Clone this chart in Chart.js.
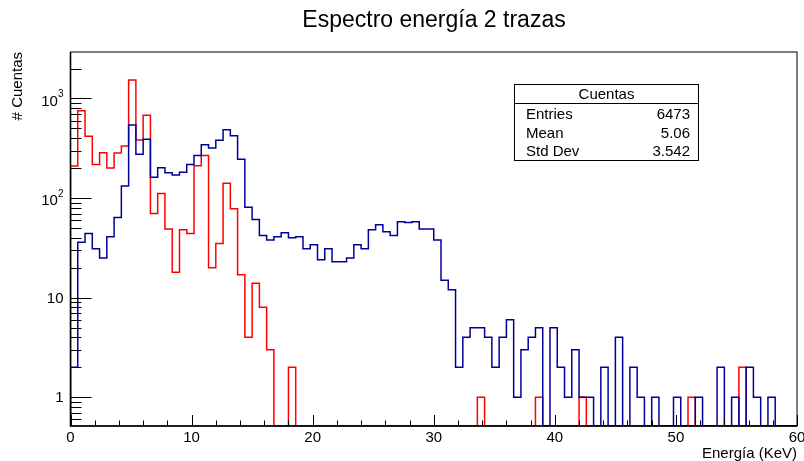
<!DOCTYPE html>
<html>
<head>
<meta charset="utf-8">
<title>Espectro energía 2 trazas</title>
<script src="https://cdn.jsdelivr.net/npm/chart.js@4.4.1/dist/chart.umd.min.js"></script>
<style>
  html, body { margin: 0; padding: 0; background: #fff; }
  #wrap { width: 804px; height: 461px; position: relative; }
</style>
</head>
<body>
<div id="wrap"><canvas id="spectrum" width="804" height="461"></canvas></div>
<script>
// Binning: 100 bins of 0.6 keV from 0 to 60 keV
const E_MIN = 0;
const E_MAX = 60;
const N_BINS = 100;

// Y range of the log axis
const Y_MIN = 0.515;
const Y_MAX = 2930;

// Counts per bin, blue trace
const countsBlue = [
  2, 36, 44, 31, 25, 41, 64, 132, 542, 275,
  390, 162, 202, 180, 171, 182, 218, 267, 344, 318,
  380, 486, 423, 245, 81, 61, 42, 38, 41, 45,
  40, 41, 31, 34, 24, 31, 23, 23, 25, 34,
  31, 48, 54, 46, 42, 58, 57, 58, 49, 49,
  38, 15, 12, 2, 4, 5, 5, 4, 2, 4,
  6, 1, 3, 4, 5, 0, 5, 2, 1, 3,
  1, 1, 0, 2, 0, 4, 0, 2, 1, 0,
  1, 0, 0, 1, 0, 0, 1, 0, 0, 2,
  0, 1, 0, 2, 1, 0, 1, 0, 0, 0
];

// Counts per bin, red trace
const countsRed = [
  210, 755, 417, 218, 286, 200, 284, 333, 1535, 383,
  678, 70, 111, 49, 18, 48, 44, 211, 267, 20,
  35, 141, 78, 17, 4, 14, 8, 3, 0, 0,
  2, 0, 0, 0, 0, 0, 0, 0, 0, 0,
  0, 0, 0, 0, 0, 0, 0, 0, 0, 0,
  0, 0, 0, 0, 0, 0, 1, 0, 0, 0,
  0, 0, 0, 0, 1, 0, 0, 0, 0, 0,
  1, 0, 0, 0, 0, 0, 0, 0, 0, 0,
  0, 0, 0, 0, 0, 1, 0, 0, 0, 0,
  0, 0, 2, 0, 0, 0, 0, 0, 0, 0
];

const xTickValues = [0, 10, 20, 30, 40, 50, 60];
const yTickValues = [1, 10, 100, 1000];
const yTickBase = ['1', '10', '10', '10'];
const yTickExp = ['', '', '2', '3'];

const titleText = 'Espectro energía 2 trazas';
const xTitle = 'Energía (KeV)';
const yTitle = '# Cuentas';

const statsTitle = 'Cuentas';
const statsNames = ['Entries', 'Mean', 'Std Dev'];
const statsValues = ['6473', '5.06', '3.542'];

const FONT = '"Liberation Sans", Arial, Helvetica, sans-serif';

/**
 * Turn bin contents into a closed step outline (ROOT "HIST" style).
 * Empty bins sit on the bottom of the frame.
 */
function histPoints(counts) {
  const w = (E_MAX - E_MIN) / N_BINS;
  const pts = [{ x: E_MIN, y: Y_MIN }];
  counts.forEach((c, i) => {
    pts.push({ x: E_MIN + i * w, y: Math.max(c, Y_MIN) });
  });
  pts.push({ x: E_MAX, y: Math.max(counts[counts.length - 1], Y_MIN) });
  pts.push({ x: E_MAX, y: Y_MIN });
  return pts;
}

// Frame, inward ticks, labels, titles and stats box
const rootFrame = {
  id: 'rootFrame',
  afterDatasetsDraw(chart) {
    const ctx = chart.ctx;
    const area = chart.chartArea;
    const xs = chart.scales.x;
    const ys = chart.scales.y;

    ctx.save();
    ctx.strokeStyle = '#000';
    ctx.fillStyle = '#000';

    // frame
    ctx.lineWidth = 1;
    ctx.strokeRect(area.left, area.top, area.right - area.left, area.bottom - area.top);

    // axis lines
    ctx.lineWidth = 1.6;
    ctx.beginPath();
    ctx.moveTo(area.left, area.top);
    ctx.lineTo(area.left, area.bottom);
    ctx.lineTo(area.right, area.bottom);
    ctx.stroke();

    // x ticks every 2 keV
    ctx.lineWidth = 1;
    ctx.beginPath();
    for (let v = E_MIN; v <= E_MAX; v += 2) {
      const px = Math.round(xs.getPixelForValue(v)) + 0.5;
      const len = v % 10 === 0 ? 11 : 5.5;
      ctx.moveTo(px, area.bottom);
      ctx.lineTo(px, area.bottom - len);
    }
    ctx.stroke();

    // y ticks, log decades with 2..9 minors
    ctx.beginPath();
    for (let d = -1; d <= 3; d++) {
      for (let m = 1; m <= 9; m++) {
        const v = m * Math.pow(10, d);
        if (v < Y_MIN || v > Y_MAX) continue;
        const py = Math.round(ys.getPixelForValue(v)) + 0.5;
        const len = m === 1 ? 21 : 11;
        ctx.moveTo(area.left, py);
        ctx.lineTo(area.left + len, py);
      }
    }
    ctx.stroke();

    // x labels
    ctx.font = '15px ' + FONT;
    ctx.textAlign = 'center';
    ctx.textBaseline = 'middle';
    xTickValues.forEach(v => {
      ctx.fillText(String(v), xs.getPixelForValue(v), area.bottom + 12);
    });

    // y labels, powers of ten with superscripts
    yTickValues.forEach((v, i) => {
      const py = ys.getPixelForValue(v);
      const right = area.left - 7;
      if (yTickExp[i]) {
        ctx.font = '10px ' + FONT;
        ctx.textAlign = 'right';
        const ew = ctx.measureText(yTickExp[i]).width;
        ctx.fillText(yTickExp[i], right, py - 4);
        ctx.font = '15px ' + FONT;
        ctx.fillText(yTickBase[i], right - ew, py + 3);
      } else {
        ctx.font = '15px ' + FONT;
        ctx.textAlign = 'right';
        ctx.fillText(yTickBase[i], right, py + 1);
      }
    });

    // axis titles
    ctx.font = '15px ' + FONT;
    ctx.textAlign = 'right';
    ctx.textBaseline = 'alphabetic';
    ctx.fillText(xTitle, area.right, 458);

    ctx.save();
    ctx.translate(22, area.top);
    ctx.rotate(-Math.PI / 2);
    ctx.textAlign = 'right';
    ctx.fillText(yTitle, 0, 0);
    ctx.restore();

    // main title
    ctx.font = '23px ' + FONT;
    ctx.textAlign = 'center';
    ctx.textBaseline = 'middle';
    ctx.fillText(titleText, 434, 21);

    // stats box
    const bx = 514.5, by = 84.5, bw = 184, bh = 76;
    ctx.fillStyle = '#fff';
    ctx.fillRect(bx, by, bw, bh);
    ctx.lineWidth = 1;
    ctx.strokeRect(bx, by, bw, bh);
    ctx.beginPath();
    ctx.moveTo(bx, 103.5);
    ctx.lineTo(bx + bw, 103.5);
    ctx.stroke();

    ctx.fillStyle = '#000';
    ctx.font = '15px ' + FONT;
    ctx.textAlign = 'center';
    ctx.fillText(statsTitle, bx + bw / 2, 94.5);
    const rowY = [115, 133.5, 151.5];
    statsNames.forEach((name, i) => {
      ctx.textAlign = 'left';
      ctx.fillText(name, 526, rowY[i]);
      ctx.textAlign = 'right';
      ctx.fillText(statsValues[i], 690, rowY[i]);
    });

    ctx.restore();
  }
};

const ctx = document.getElementById('spectrum').getContext('2d');
new Chart(ctx, {
  type: 'line',
  data: {
    datasets: [
      {
        label: 'traza azul',
        data: histPoints(countsBlue),
        borderColor: '#000099',
        borderWidth: 1.5,
        stepped: true,
        pointRadius: 0,
        fill: false
      },
      {
        label: 'traza roja',
        data: histPoints(countsRed),
        borderColor: '#ff0000',
        borderWidth: 1.5,
        stepped: true,
        pointRadius: 0,
        fill: false
      }
    ]
  },
  options: {
    responsive: false,
    animation: false,
    devicePixelRatio: 1,
    layout: {
      padding: { left: 70.5, right: 7, top: 52, bottom: 35 }
    },
    plugins: {
      legend: { display: false },
      tooltip: { enabled: false },
      title: { display: false }
    },
    scales: {
      x: {
        type: 'linear',
        min: E_MIN,
        max: E_MAX,
        bounds: 'data',
        display: false
      },
      y: {
        type: 'logarithmic',
        min: Y_MIN,
        max: Y_MAX,
        bounds: 'data',
        display: false
      }
    }
  },
  plugins: [rootFrame]
});
</script>
</body>
</html>
